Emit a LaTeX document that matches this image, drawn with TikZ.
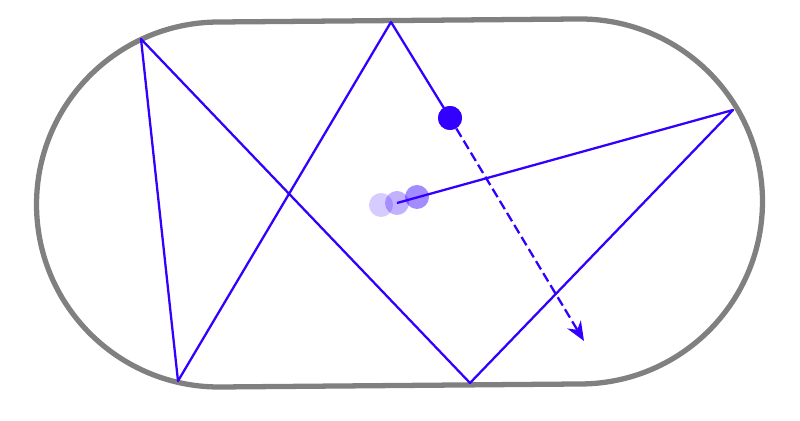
\documentclass[tikz,border=0pt]{standalone}
\usepackage{tikz}
\usetikzlibrary{arrows.meta}
\definecolor{wallgray}{RGB}{128,128,128}
\definecolor{raybl}{RGB}{51,0,255}
\tikzstyle{wall} = [draw=wallgray, line width=3pt]
\tikzstyle{ray} = [draw=raybl, line width=1.3pt, line join=round]
\tikzstyle{ball} = [circle, inner sep=0pt, minimum size=0.48cm, fill=raybl]
\tikzstyle{trail} = [circle, inner sep=0pt, minimum size=0.48cm, fill=raybl]
\tikzstyle{velocity} = [draw=raybl, line width=1.3pt, dash pattern=on 5.5pt off 2.5pt, -{Stealth[length=11pt,width=9pt]}]

\begin{document}
\begin{tikzpicture}[x=0.02cm, y=0.02cm]
\useasboundingbox (0,0) rectangle (800,421);
% stadium
\begin{scope}[rotate around={0.48:(399.5,218)}]
\draw [wall] (219,400.5) -- (580,400.5) arc (90:-90:182.5) -- (219,35.5) arc (270:90:182.5) -- cycle;
\end{scope}
% trail
\node (trail1) [trail, opacity=0.2] at (381,216) {};
\node (trail2) [trail, opacity=0.3] at (397,218) {};
\node (trail3) [trail, opacity=0.45] at (417,224) {};
% bounce points
\coordinate (p1) at (733,311);
\coordinate (p2) at (470,38);
\coordinate (p3) at (141,382);
\coordinate (p4) at (178,40);
\coordinate (p5) at (391,399);
\coordinate (tip) at (584,80);
\node (ball) [ball] at (450,303) {};
\draw [ray] (trail2.center) -- (p1) -- (p2) -- (p3) -- (p4) -- (p5) -- (ball.center);
\node [ball] at (ball) {};
\draw [velocity] (ball) -- (tip);
\end{tikzpicture}
\end{document}
